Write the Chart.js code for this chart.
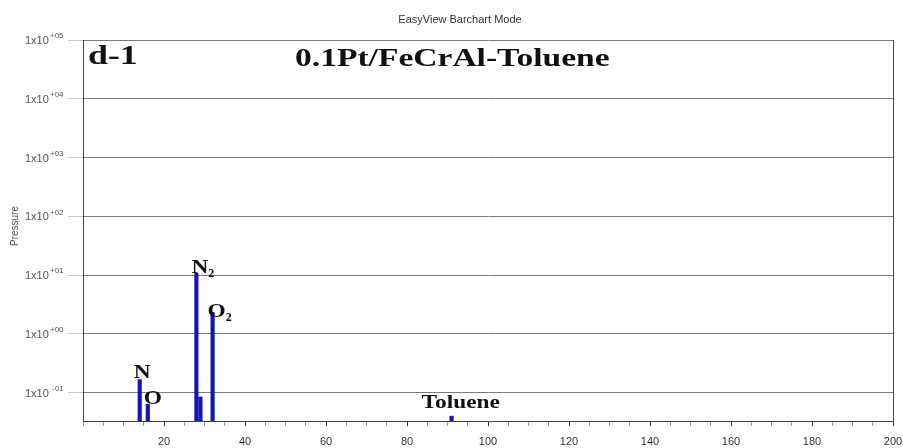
<!DOCTYPE html>
<html>
<head>
<meta charset="utf-8">
<script src="https://cdn.jsdelivr.net/npm/chart.js@4.4.1/dist/chart.umd.min.js"></script>
<style>
  body { margin: 0; background: #fff; }
  #wrap { width: 903px; height: 448px; position: relative; }
</style>
</head>
<body>
<div id="wrap"><canvas id="spectrum"></canvas></div>
<script>
// --- DATA ---
const massNumbers = [14, 16, 28, 29, 32, 91];
const pressures = [0.168, 0.064, 10.8, 0.085, 2.33, 0.04];
const yDecades = [-1, 0, 1, 2, 3, 4, 5];
const xTickLabels = [20, 40, 60, 80, 100, 120, 140, 160, 180, 200];
const peakNames = ['N', 'O', 'N2', 'O2', 'Toluene'];
const peakMass = [14, 16, 28, 32, 91];

const chartTitle = 'EasyView Barchart Mode';
const sampleTag = 'd-1';
const sampleName = '0.1Pt/FeCrAl-Toluene';

// label nudges (left, baseline) relative to top of its bar
const labelNudge = { N: [-6, -2], O: [-4, 0], N2: [-5, 0], O2: [-5, 5], Toluene: [-30, -8] };

function stretchText(ctx, text, x, y, size, sx) {
    ctx.save();
    ctx.translate(x, y);
    ctx.scale(sx, 1);
    ctx.font = `bold ${size}px "Liberation Serif", "DejaVu Serif", serif`;
    ctx.textAlign = 'left';
    ctx.textBaseline = 'alphabetic';
    ctx.fillStyle = '#111';
    ctx.fillText(text, 0, 0);
    const w = ctx.measureText(text).width * sx;
    ctx.restore();
    return w;
}

const decorations = {
    id: 'decorations',
    afterDraw(chart) {
        const ctx = chart.ctx;
        const { left, right, top, bottom } = chart.chartArea;
        const xs = chart.scales.x, ys = chart.scales.y;

        // right frame
        ctx.save();
        ctx.strokeStyle = '#444';
        ctx.lineWidth = 1;
        ctx.beginPath();
        ctx.moveTo(right + 0.5, top);
        ctx.lineTo(right + 0.5, bottom);
        ctx.stroke();

        // header
        ctx.font = '11px "Liberation Sans", Arial, sans-serif';
        ctx.fillStyle = '#333';
        ctx.textAlign = 'center';
        ctx.textBaseline = 'middle';
        ctx.fillText(chartTitle, 460, 20);

        // y tick labels 1x10^+nn
        ctx.fillStyle = '#555';
        yDecades.forEach(e => {
            const y = ys.getPixelForValue(Math.pow(10, e));
            ctx.textAlign = 'left';
            ctx.font = '11px "Liberation Sans", Arial, sans-serif';
            ctx.fillText('1x10', 25, y + 1);
            ctx.font = '8px "Liberation Sans", Arial, sans-serif';
            const exp = (e < 0 ? ' -' : '+') + String(Math.abs(e)).padStart(2, '0');
            ctx.fillText(exp, 50, y - 4);
        });

        // y title
        ctx.save();
        ctx.translate(15, 226);
        ctx.rotate(-Math.PI / 2);
        ctx.font = '10px "Liberation Sans", Arial, sans-serif';
        ctx.textAlign = 'center';
        ctx.fillText('Pressure', 0, 0);
        ctx.restore();
        ctx.restore();

        // sample text
        stretchText(ctx, sampleTag, 88, 64, 28, 1.28);
        stretchText(ctx, sampleName, 295, 66, 26, 1.29);

        // peak labels
        peakNames.forEach((name, i) => {
            const idx = massNumbers.indexOf(peakMass[i]);
            const bx = xs.getPixelForValue(peakMass[i]);
            const by = ys.getPixelForValue(pressures[idx]);
            const [dx, dy] = labelNudge[name];
            const m = name.match(/^([A-Za-z]+?)(\d*)$/);
            const w = stretchText(ctx, m[1], bx + dx, by + dy, 18, 1.3);
            if (m[2]) {
                ctx.save();
                ctx.font = 'bold 12px "Liberation Serif", serif';
                ctx.fillStyle = '#111';
                ctx.fillText(m[2], bx + dx + w, by + dy + 4);
                ctx.restore();
            }
        });
    }
};

new Chart(document.getElementById('spectrum'), {
    type: 'bar',
    data: {
        datasets: [{
            data: massNumbers.map((m, i) => ({ x: m, y: pressures[i] })),
            backgroundColor: '#1414b4',
            barThickness: 3.5
        }]
    },
    options: {
        responsive: true,
        maintainAspectRatio: false,
        animation: false,
        layout: { padding: { top: 40, right: 10, bottom: 0, left: 0 } },
        plugins: { legend: { display: false }, tooltip: { enabled: false }, title: { display: false } },
        scales: {
            x: {
                type: 'linear',
                min: 0, max: 200,
                offset: false,
                afterFit: s => { s.height = 27; s.paddingLeft = 0; s.paddingRight = 0; },
                grid: {
                    offset: false,
                    drawOnChartArea: false,
                    tickLength: 5,
                    tickColor: c => xTickLabels.includes(c.tick && c.tick.value) ? '#333' : '#999'
                },
                border: { color: '#444', width: 1 },
                ticks: {
                    stepSize: 5,
                    autoSkip: false,
                    maxRotation: 0,
                    padding: 9,
                    color: '#333',
                    font: { family: '"Liberation Sans", Arial, sans-serif', size: 11 },
                    callback: v => xTickLabels.includes(v) ? String(v) : ''
                }
            },
            y: {
                type: 'logarithmic',
                min: Math.pow(10, -1.48), max: 1e5,
                afterFit: s => { s.width = 83; },
                afterBuildTicks: s => { s.ticks = yDecades.map(e => ({ value: Math.pow(10, e) })); },
                grid: { color: '#7a7a7a', lineWidth: 1, tickLength: 15, tickColor: '#c8c8c8' },
                border: { color: '#444', width: 1 },
                ticks: { display: false }
            }
        }
    },
    plugins: [decorations]
});
</script>
</body>
</html>
